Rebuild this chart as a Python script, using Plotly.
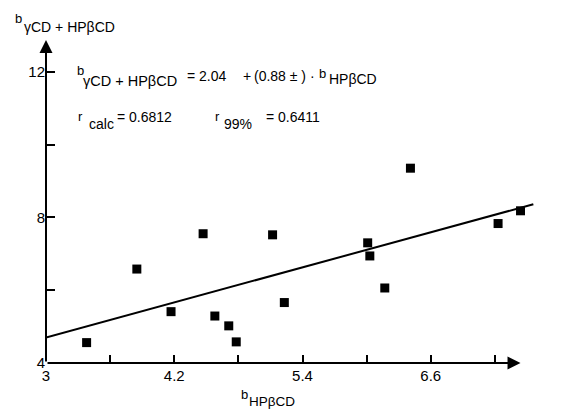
import plotly.graph_objects as go

# ---- data ----
x_hpbcd = [3.38, 3.85, 4.17, 4.47, 4.58, 4.71, 4.78, 5.12, 5.23,
           6.01, 6.03, 6.17, 6.41, 7.23, 7.44]
y_gcd_hpbcd = [4.56, 6.58, 5.41, 7.55, 5.29, 5.02, 4.58, 7.52, 5.66,
               7.30, 6.94, 6.06, 9.35, 7.83, 8.18]
fit_x = [3.0, 7.56]
fit_y = [4.70, 8.36]

x_tickvals = [3.0, 3.6, 4.2, 4.8, 5.4, 6.0, 6.6, 7.2]
x_ticktext = ["3", "", "4.2", "", "5.4", "", "6.6", ""]
y_tickvals = [4, 6, 8, 10, 12]
y_ticktext = ["4", "", "8", "", "12"]

# the page body has an 8px margin, so the figure is drawn 8px in from the corner
OFF = 8
W, H = 567 - OFF, 409 - OFF
L, R, T, B = 46 - OFF, 8, 28 - OFF, 46
PW, PH = W - L - R, H - T - B
FONT = "Liberation Sans, Arial, sans-serif"


def px_x(px):
    return (px - OFF - L) / PW


def px_y(py):
    return (H - B - (py - OFF)) / PH


fig = go.Figure()
fig.add_trace(go.Scatter(x=fit_x, y=fit_y, mode="lines",
                         line=dict(color="black", width=2),
                         showlegend=False, hoverinfo="skip"))
fig.add_trace(go.Scatter(x=x_hpbcd, y=y_gcd_hpbcd, mode="markers",
                         marker=dict(symbol="square", size=9, color="black"),
                         showlegend=False, cliponaxis=False))

annotations = []
# axis arrows
annotations.append(dict(x=7.44, y=4, ax=3, ay=4, xref="x", yref="y",
                        axref="x", ayref="y", text="", showarrow=True,
                        arrowhead=2, arrowsize=1.3, arrowwidth=2,
                        arrowcolor="black"))
annotations.append(dict(x=3, y=12.87, ax=3, ay=4, xref="x", yref="y",
                        axref="x", ayref="y", text="", showarrow=True,
                        arrowhead=2, arrowsize=1.3, arrowwidth=2,
                        arrowcolor="black"))

# text pieces: (text, left px, center px, size)
pieces = [
    ("b", 13, 18.8, 13),
    ("γCD + HPβCD", 22, 26.5, 14),
    ("b", 75, 70.4, 13),
    ("γCD + HPβCD", 81, 80.8, 14.5),
    ("= 2.04", 185, 75.8, 14),
    ("+", 241, 75.8, 14),
    ("(0.88 ± ) ·", 252, 75.8, 14),
    ("b", 317, 73.8, 13),
    ("HPβCD", 327, 78.8, 14),
    ("r", 76, 117, 13),
    ("calc", 87, 124, 14),
    ("= 0.6812", 115, 116.8, 14),
    ("r", 213, 117, 13),
    ("99%", 222, 123.8, 14),
    ("= 0.6411", 264, 116.8, 14),
    ("b", 239, 394.5, 13),
    ("HPβCD", 246.5, 401.5, 13.5),
]
for txt, lx, cy, sz in pieces:
    annotations.append(dict(text=txt, x=px_x(lx), y=px_y(cy),
                            xref="paper", yref="paper", xanchor="left",
                            yanchor="middle", showarrow=False,
                            font=dict(family=FONT, size=sz, color="black")))

fig.update_layout(
    width=W, height=H,
    margin=dict(l=L, r=R, t=T, b=B, pad=0),
    paper_bgcolor="white", plot_bgcolor="white",
    font=dict(family=FONT, size=15, color="black"),
    annotations=annotations,
    xaxis=dict(range=[3, 7.8], tickvals=x_tickvals, ticktext=x_ticktext,
               ticks="inside", ticklen=8, tickwidth=2, tickcolor="black",
               showline=False, showgrid=False, zeroline=False,
               ticklabelstandoff=2, tickfont=dict(size=15)),
    yaxis=dict(range=[4, 13.2], tickvals=y_tickvals, ticktext=y_ticktext,
               ticks="inside", ticklen=9, tickwidth=2, tickcolor="black",
               showline=False, showgrid=False, zeroline=False,
               tickfont=dict(size=15)),
)

fig.write_html("out.html")
